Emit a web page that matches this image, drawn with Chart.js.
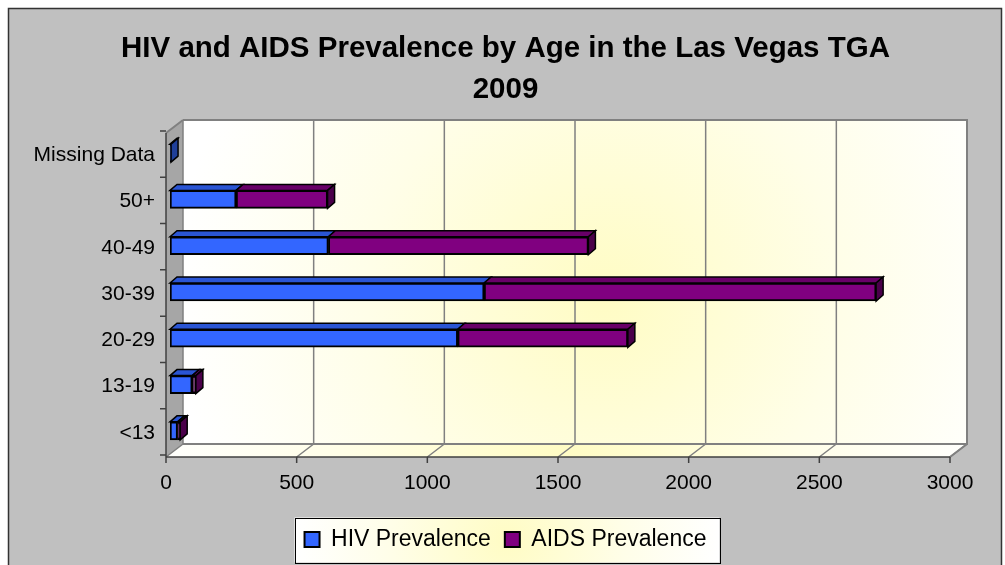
<!DOCTYPE html>
<html lang="en">
<head>
<meta charset="UTF-8">
<title>HIV and AIDS Prevalence by Age in the Las Vegas TGA 2009</title>
<script src="https://cdn.jsdelivr.net/npm/chart.js"></script>
<style>
  html, body { margin: 0; padding: 0; background: #fff; }
  #wrap { width: 1005px; height: 565px; }
</style>
</head>
<body>
<div id="wrap"><canvas id="ageChart" width="1005" height="565"></canvas></div>
<script>
// data
const ageGroups = ['Missing Data', '50+', '40-49', '30-39', '20-29', '13-19', '<13'];
const hivPrevalence = [4, 253, 606, 1202, 1101, 85, 29];
const aidsPrevalence = [0, 350, 995, 1500, 651, 14, 10];
const xTickMax = 3000;
const xTickStep = 500;

const FONT = "'Liberation Sans', Arial, sans-serif";
const frontColors = ['#3366ff', '#800080'];
const topColors = ['#2a55d4', '#680068'];
const sideColors = ['#1f3f99', '#4a004a'];

// 3D offsets: front plane and back wall relative to the bar plane
const FRONT = { x: -4, y: 3 };
const BACK = { x: 13, y: -10 };
const BAR_DX = 7, BAR_DY = -6;

function poly(ctx, pts, fill, stroke, lw) {
  ctx.beginPath();
  ctx.moveTo(pts[0][0], pts[0][1]);
  for (let i = 1; i < pts.length; i++) ctx.lineTo(pts[i][0], pts[i][1]);
  ctx.closePath();
  if (fill) { ctx.fillStyle = fill; ctx.fill(); }
  if (stroke) { ctx.strokeStyle = stroke; ctx.lineWidth = lw || 1; ctx.stroke(); }
}

function glow(ctx, cx, cy, r) {
  const g = ctx.createRadialGradient(cx, cy, 0, cx, cy, r);
  g.addColorStop(0, '#fffcc4');
  g.addColorStop(0.55, '#fffee8');
  g.addColorStop(1, '#ffffff');
  return g;
}

const depthPlugin = {
  id: 'depth3d',
  beforeDraw(chart) {
    const ctx = chart.ctx;
    ctx.save();
    ctx.fillStyle = '#ffffff';
    ctx.fillRect(0, 0, chart.width, chart.height);
    ctx.fillStyle = '#c0c0c0';
    ctx.fillRect(8, 8, 994, 600);
    ctx.strokeStyle = '#333333';
    ctx.lineWidth = 1.5;
    ctx.strokeRect(8.5, 8.5, 993, 600);

    // legend frame
    const boxes = chart.legend && chart.legend.legendHitBoxes;
    if (boxes && boxes.length) {
      const first = boxes[0], last = boxes[boxes.length - 1];
      const l = first.left - 10;
      const r = last.left + last.width + 13;
      const cy = first.top + first.height / 2;
      const t = cy - 22, b = cy + 23;
      ctx.fillStyle = glow(ctx, (l + r) / 2, cy, (r - l) / 2);
      ctx.fillRect(l, t, r - l, b - t);
      ctx.strokeStyle = '#000000';
      ctx.lineWidth = 1;
      ctx.strokeRect(Math.round(l) + 0.5, Math.round(t) + 0.5, Math.round(r - l), Math.round(b - t));
    }
    ctx.restore();
  },
  beforeDatasetsDraw(chart) {
    const ctx = chart.ctx;
    const a = chart.chartArea;
    const xs = chart.scales.x;
    ctx.save();

    const fl = a.left + FRONT.x, fr = a.right + FRONT.x, fb = a.bottom + FRONT.y, ft = a.top + FRONT.y;
    const bl = a.left + BACK.x, br = a.right + BACK.x, bb = a.bottom + BACK.y, bt = a.top + BACK.y;

    // back wall
    ctx.fillStyle = glow(ctx, (bl + br) / 2 + 30, (bt + bb) / 2 + 15, 430);
    ctx.fillRect(bl, bt, br - bl, bb - bt);
    // floor
    poly(ctx, [[fl, fb], [fr, fb], [br, bb], [bl, bb]], glow(ctx, (fl + br) / 2, bb, 420), null);
    // left wall
    poly(ctx, [[fl, ft], [bl, bt], [bl, bb], [fl, fb]], '#a6a6a6', null);

    // gridlines on the back wall and the floor
    ctx.strokeStyle = '#808080';
    ctx.lineWidth = 1.5;
    xs.ticks.forEach(t => {
      const px = xs.getPixelForValue(t.value);
      ctx.beginPath();
      ctx.moveTo(px + BACK.x, bt);
      ctx.lineTo(px + BACK.x, bb);
      ctx.moveTo(px + BACK.x, bb);
      ctx.lineTo(px + FRONT.x, fb);
      ctx.stroke();
    });
    // wall outlines
    ctx.lineWidth = 2;
    ctx.beginPath();
    ctx.moveTo(bl, bt);
    ctx.lineTo(br, bt);
    ctx.lineTo(br, bb);
    ctx.lineTo(bl, bb);
    ctx.moveTo(br, bb);
    ctx.lineTo(fr, fb);
    ctx.moveTo(fl, ft);
    ctx.lineTo(bl, bt);
    ctx.stroke();

    // front axes with tick marks
    ctx.strokeStyle = '#404040';
    ctx.lineWidth = 1.5;
    ctx.beginPath();
    ctx.moveTo(fl, fb);
    ctx.lineTo(fr, fb);
    ctx.moveTo(fl, ft);
    ctx.lineTo(fl, fb);
    xs.ticks.forEach(t => {
      const px = xs.getPixelForValue(t.value) + FRONT.x;
      ctx.moveTo(px, fb);
      ctx.lineTo(px, fb + 6);
    });
    const band = (a.bottom - a.top) / ageGroups.length;
    for (let k = 0; k <= ageGroups.length; k++) {
      const py = a.top + k * band + 1;
      ctx.moveTo(fl - 6, py);
      ctx.lineTo(fl, py);
    }
    ctx.stroke();
    ctx.restore();
  },
  afterDatasetsDraw(chart) {
    const ctx = chart.ctx;
    const sets = chart.data.datasets;
    ctx.save();
    ctx.lineJoin = 'miter';
    ageGroups.forEach((g, i) => {
      let lastSeg = -1;
      sets.forEach((ds, d) => { if (ds.data[i] > 0) lastSeg = d; });
      sets.forEach((ds, d) => {
        if (!(ds.data[i] > 0)) return;
        const el = chart.getDatasetMeta(d).data[i];
        const left = Math.min(el.base, el.x), right = Math.max(el.base, el.x);
        const top = el.y - el.height / 2, bottom = el.y + el.height / 2;
        poly(ctx, [[left, top], [left + BAR_DX, top + BAR_DY], [right + BAR_DX, top + BAR_DY], [right, top]],
          topColors[d], '#000000', 1.5);
        if (d === lastSeg) {
          poly(ctx, [[right, top], [right + BAR_DX, top + BAR_DY], [right + BAR_DX, bottom + BAR_DY], [right, bottom]],
            sideColors[d], '#000000', 1.5);
        }
      });
    });
    ctx.restore();
  }
};

new Chart(document.getElementById('ageChart'), {
  type: 'bar',
  data: {
    labels: ageGroups,
    datasets: [
      {
        label: 'HIV Prevalence',
        data: hivPrevalence,
        backgroundColor: frontColors[0],
        borderColor: '#000000',
        borderWidth: 2,
        borderSkipped: false,
        barThickness: 18
      },
      {
        label: 'AIDS Prevalence',
        data: aidsPrevalence,
        backgroundColor: frontColors[1],
        borderColor: '#000000',
        borderWidth: 2,
        borderSkipped: false,
        barThickness: 18
      }
    ]
  },
  options: {
    indexAxis: 'y',
    responsive: false,
    animation: false,
    devicePixelRatio: 1,
    layout: { padding: { left: 6, right: 0, top: 0, bottom: 4 } },
    scales: {
      x: {
        stacked: true,
        min: 0,
        max: xTickMax,
        ticks: {
          stepSize: xTickStep,
          padding: 17,
          labelOffset: FRONT.x,
          color: '#000000',
          font: { family: FONT, size: 21 },
          callback: v => String(v)
        },
        grid: { display: false, drawTicks: false },
        border: { display: false },
        afterFit: s => { s.height = 60; }
      },
      y: {
        stacked: true,
        ticks: {
          padding: 15,
          labelOffset: 2,
          color: '#000000',
          font: { family: FONT, size: 21 }
        },
        grid: { display: false, drawTicks: false },
        border: { display: false },
        afterFit: s => { s.width = 164; }
      },
      // empty spacer on the right so the title and legend stay centred on the page
      spacer: {
        type: 'linear',
        axis: 'y',
        position: 'right',
        display: true,
        ticks: { display: false },
        grid: { display: false, drawTicks: false },
        border: { display: false },
        afterFit: s => { s.width = 51; }
      }
    },
    plugins: {
      title: {
        display: true,
        text: ['HIV and AIDS Prevalence by Age in the Las Vegas TGA', '2009'],
        color: '#000000',
        font: { family: FONT, size: 29.5, weight: 'bold', lineHeight: '41px' },
        padding: { top: 28.5, bottom: 19.5 }
      },
      legend: {
        position: 'bottom',
        labels: {
          boxWidth: 15,
          boxHeight: 15,
          padding: 14,
          color: '#000000',
          font: { family: FONT, size: 23 }
        }
      },
      tooltip: { enabled: false }
    }
  },
  plugins: [depthPlugin]
});
</script>
</body>
</html>
